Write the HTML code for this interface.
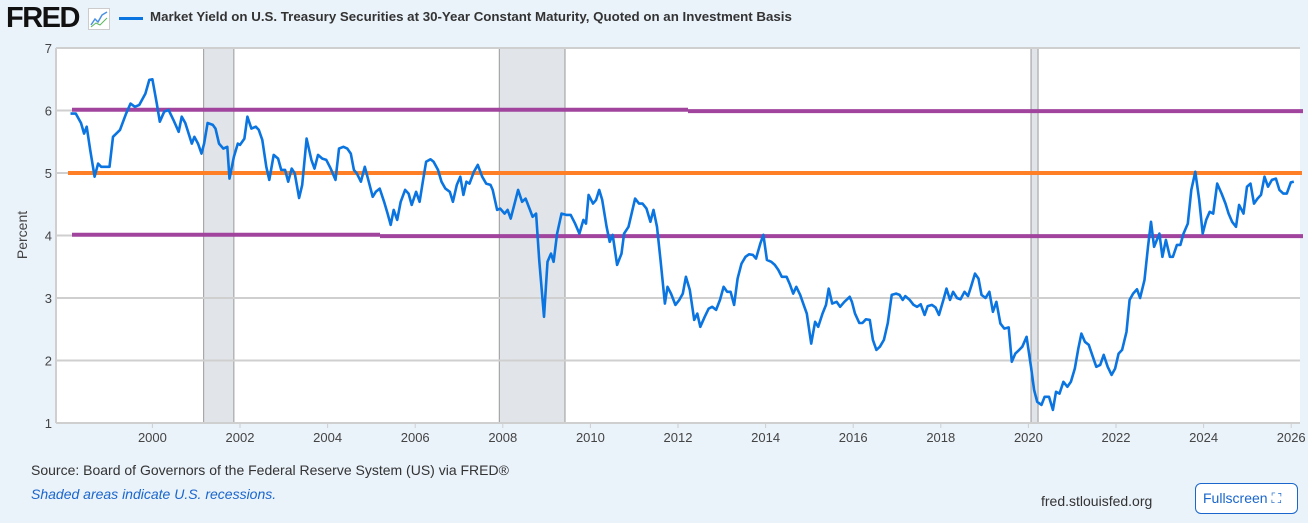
<!DOCTYPE html>
<html><head><meta charset="utf-8">
<style>
html,body{margin:0;padding:0}
body{width:1308px;height:523px;background:#eaf2fa;font-family:"Liberation Sans",sans-serif;position:relative;overflow:hidden}
.abs{position:absolute}
</style></head>
<body>
<div class="abs" style="left:6px;top:2px;font-size:29px;font-weight:bold;letter-spacing:-1.5px;color:#111">FRED</div>
<svg class="abs" style="left:88px;top:8px" width="22" height="22"><rect x="0.5" y="0.5" width="21" height="21" fill="#fff" stroke="#ccc"/><polyline points="3,17 7,11 10,14 14,7 19,4" fill="none" stroke="#4a90e2" stroke-width="1.5"/><polyline points="3,19 8,15 12,17 19,10" fill="none" stroke="#5cb85c" stroke-width="1"/></svg>
<div class="abs" style="left:119px;top:17px;width:24px;height:3px;background:#0a74e0"></div>
<div class="abs" style="left:150px;top:9px;font-size:13.3px;font-weight:bold;color:#333">Market Yield on U.S. Treasury Securities at 30-Year Constant Maturity, Quoted on an Investment Basis</div>
<svg id="chart" class="abs" style="left:0;top:0" width="1308" height="460"></svg>
<div class="abs" style="left:31px;top:462px;font-size:14px;color:#333">Source: Board of Governors of the Federal Reserve System (US) via FRED®</div>
<div class="abs" style="left:31px;top:486px;font-size:14px;font-style:italic;color:#1a66cc">Shaded areas indicate U.S. recessions.</div>
<div class="abs" style="left:1041px;top:493px;font-size:14px;color:#333">fred.stlouisfed.org</div>
<div class="abs" style="left:1195px;top:483px;width:103px;height:31px;box-sizing:border-box;border:1.5px solid #1a66cc;border-radius:6px;background:#fff;color:#1a66cc;font-size:14px;line-height:28px;padding-left:7px">Fullscreen ⛶</div>
<script>
const years=[1998.13,1998.25,1998.37,1998.44,1998.5,1998.58,1998.68,1998.76,1998.83,1999.02,1999.1,1999.26,1999.4,1999.5,1999.6,1999.7,1999.84,1999.93,2000.0,2000.1,2000.17,2000.27,2000.37,2000.48,2000.6,2000.67,2000.75,2000.9,2000.96,2001.04,2001.12,2001.18,2001.26,2001.38,2001.44,2001.52,2001.62,2001.71,2001.76,2001.86,2001.95,2002.0,2002.1,2002.17,2002.26,2002.36,2002.43,2002.51,2002.6,2002.67,2002.77,2002.87,2002.94,2003.03,2003.1,2003.18,2003.25,2003.35,2003.42,2003.52,2003.63,2003.7,2003.78,2003.88,2003.97,2004.07,2004.18,2004.26,2004.36,2004.45,2004.53,2004.6,2004.67,2004.76,2004.85,2004.93,2005.03,2005.1,2005.19,2005.29,2005.37,2005.44,2005.51,2005.59,2005.67,2005.77,2005.85,2005.92,2006.02,2006.1,2006.18,2006.25,2006.35,2006.42,2006.52,2006.6,2006.69,2006.79,2006.86,2006.95,2007.03,2007.1,2007.17,2007.24,2007.34,2007.43,2007.53,2007.62,2007.72,2007.77,2007.87,2007.94,2008.04,2008.11,2008.18,2008.27,2008.35,2008.44,2008.52,2008.62,2008.68,2008.76,2008.83,2008.94,2009.02,2009.1,2009.16,2009.24,2009.34,2009.45,2009.55,2009.65,2009.75,2009.84,2009.9,2009.96,2010.06,2010.13,2010.2,2010.27,2010.37,2010.44,2010.51,2010.61,2010.71,2010.77,2010.87,2010.94,2011.02,2011.11,2011.19,2011.28,2011.37,2011.44,2011.52,2011.6,2011.7,2011.76,2011.84,2011.94,2012.03,2012.11,2012.18,2012.27,2012.37,2012.44,2012.51,2012.61,2012.7,2012.78,2012.87,2012.96,2013.04,2013.12,2013.2,2013.28,2013.36,2013.45,2013.54,2013.62,2013.71,2013.78,2013.88,2013.95,2014.03,2014.13,2014.21,2014.29,2014.37,2014.48,2014.56,2014.63,2014.7,2014.79,2014.87,2014.94,2015.04,2015.13,2015.2,2015.3,2015.38,2015.44,2015.52,2015.62,2015.7,2015.8,2015.92,2015.97,2016.04,2016.14,2016.21,2016.29,2016.38,2016.45,2016.53,2016.61,2016.7,2016.79,2016.88,2016.98,2017.06,2017.13,2017.19,2017.29,2017.38,2017.46,2017.54,2017.63,2017.7,2017.8,2017.88,2017.96,2018.06,2018.13,2018.21,2018.28,2018.37,2018.45,2018.54,2018.62,2018.69,2018.78,2018.86,2018.93,2019.02,2019.11,2019.19,2019.27,2019.36,2019.45,2019.55,2019.62,2019.7,2019.79,2019.86,2019.96,2020.06,2020.13,2020.2,2020.3,2020.37,2020.47,2020.56,2020.63,2020.71,2020.8,2020.89,2020.97,2021.06,2021.14,2021.21,2021.29,2021.38,2021.47,2021.55,2021.64,2021.72,2021.81,2021.9,2021.98,2022.06,2022.14,2022.24,2022.31,2022.39,2022.48,2022.55,2022.65,2022.73,2022.8,2022.87,2022.99,2023.06,2023.14,2023.23,2023.3,2023.39,2023.47,2023.54,2023.64,2023.72,2023.81,2023.9,2023.98,2024.06,2024.14,2024.22,2024.31,2024.41,2024.5,2024.57,2024.65,2024.74,2024.81,2024.91,2024.99,2025.07,2025.15,2025.23,2025.31,2025.39,2025.47,2025.56,2025.65,2025.73,2025.82,2025.9,2025.99,2026.06];
const yields=[5.95,5.95,5.8,5.63,5.74,5.37,4.94,5.15,5.1,5.1,5.58,5.69,5.95,6.11,6.06,6.09,6.27,6.49,6.5,6.11,5.82,5.98,6.01,5.85,5.66,5.9,5.8,5.47,5.58,5.47,5.31,5.47,5.8,5.77,5.71,5.47,5.39,5.42,4.91,5.26,5.47,5.45,5.55,5.9,5.71,5.74,5.69,5.53,5.1,4.89,5.29,5.23,5.05,5.05,4.86,5.07,4.99,4.6,4.81,5.55,5.21,5.07,5.29,5.23,5.21,5.07,4.89,5.39,5.42,5.39,5.31,5.05,4.99,4.86,5.1,4.89,4.62,4.7,4.75,4.54,4.35,4.17,4.41,4.25,4.54,4.73,4.67,4.49,4.7,4.54,4.89,5.18,5.22,5.18,5.05,4.86,4.75,4.7,4.54,4.81,4.94,4.65,4.86,4.83,5.02,5.13,4.94,4.83,4.81,4.73,4.41,4.43,4.35,4.41,4.27,4.51,4.73,4.54,4.59,4.41,4.3,4.35,3.61,2.7,3.58,3.71,3.58,4.03,4.35,4.33,4.33,4.19,4.03,4.25,4.19,4.65,4.51,4.57,4.73,4.57,4.14,3.9,4.01,3.53,3.71,4.03,4.14,4.35,4.59,4.51,4.51,4.43,4.22,4.41,4.14,3.61,2.91,3.18,3.07,2.89,2.97,3.07,3.34,3.13,2.65,2.75,2.54,2.7,2.83,2.86,2.81,2.97,3.18,3.1,3.1,2.89,3.31,3.55,3.66,3.7,3.69,3.63,3.87,4.01,3.61,3.58,3.53,3.45,3.34,3.34,3.21,3.07,3.18,3.05,2.89,2.75,2.27,2.62,2.54,2.75,2.89,3.15,2.91,2.94,2.86,2.94,3.02,2.94,2.75,2.6,2.6,2.66,2.65,2.33,2.17,2.22,2.33,2.6,3.05,3.07,3.05,2.97,3.03,2.97,2.89,2.86,2.9,2.73,2.87,2.89,2.85,2.73,2.97,3.15,2.97,3.1,3.0,2.98,3.1,3.03,3.18,3.39,3.31,3.05,3.0,3.1,2.78,2.94,2.59,2.51,2.53,1.98,2.11,2.17,2.22,2.38,1.9,1.53,1.34,1.29,1.42,1.42,1.21,1.5,1.47,1.66,1.58,1.66,1.87,2.19,2.43,2.3,2.25,2.06,1.9,1.93,2.09,1.9,1.77,1.87,2.11,2.17,2.46,2.97,3.07,3.14,3.0,3.29,3.82,4.22,3.82,4.03,3.66,3.93,3.66,3.66,3.85,3.85,4.03,4.19,4.73,5.02,4.57,4.03,4.25,4.38,4.35,4.83,4.67,4.51,4.35,4.22,4.14,4.49,4.35,4.78,4.83,4.51,4.59,4.65,4.94,4.78,4.89,4.91,4.73,4.67,4.67,4.85,4.86];
const yTicks=[1,2,3,4,5,6,7];
const xTicks=[2000,2002,2004,2006,2008,2010,2012,2014,2016,2018,2020,2022,2024,2026];
const recessionStarts=[2001.17,2007.92,2020.06];
const recessionEnds=[2001.86,2009.42,2020.22];
const refLevels=[6,5,4];

const NS='http://www.w3.org/2000/svg';
const svg=document.getElementById('chart');
const L=56,R=1300,T=48,B=423;
const x=v=>152.4+(v-2000)*43.8;
const y=v=>T+(7-v)*62.5;
function mk(tag,attrs,parent){const e=document.createElementNS(NS,tag);for(const k in attrs)e.setAttribute(k,attrs[k]);(parent||svg).appendChild(e);return e;}

const bg=mk('rect',{x:L,y:T,width:R-L,height:B-T,fill:'#fff'});



for(let i=0;i<recessionStarts.length;i++){
  const r=mk('rect',{x:x(recessionStarts[i]),y:T,width:x(recessionEnds[i])-x(recessionStarts[i]),height:B-T,fill:'#e1e5ea',stroke:'#999','stroke-width':1});
  
  
}
yTicks.forEach(t=>{
  const g=mk('line',{x1:L,x2:R,y1:y(t),y2:y(t),stroke:'#cfcfcf','stroke-width':2});
  
  
  const tx=mk('text',{x:52,y:y(t)+5,'text-anchor':'end','font-size':13,fill:'#444','font-family':'Liberation Sans'});
  tx.textContent=t;
  
  
});
const lb=mk('line',{x1:L,x2:L,y1:T,y2:B,stroke:'#cfcfcf','stroke-width':2});


xTicks.forEach(t=>{
  const tk=mk('line',{x1:x(t),x2:x(t),y1:B,y2:B+5,stroke:'#cfcfcf','stroke-width':1});
  
  
  const tx=mk('text',{x:x(t),y:442,'text-anchor':'middle','font-size':13,fill:'#444','font-family':'Liberation Sans'});
  tx.textContent=t;
  
  
});
const yt=mk('text',{x:27,y:235,'text-anchor':'middle','font-size':14,fill:'#444','font-family':'Liberation Sans',transform:'rotate(-90 27 235)'});
yt.textContent='Percent';



const colors=['#a0449e','#ff7f27','#a0449e'];
const offs=[[-0.8,0.6,688],[0,0,null],[-0.8,0.6,380]];
refLevels.forEach((lv,i)=>{
  const o=offs[i];
  if(o[2]){
    const a=mk('line',{x1:72,x2:o[2],y1:y(lv)+o[0],y2:y(lv)+o[0],stroke:colors[i],'stroke-width':4});
    
    
    const b=mk('line',{x1:o[2],x2:1303,y1:y(lv)+o[1],y2:y(lv)+o[1],stroke:colors[i],'stroke-width':4});
    
    
  } else {
    const a=mk('line',{x1:68,x2:1302,y1:y(lv),y2:y(lv),stroke:colors[i],'stroke-width':4});
    
    
  }
});
const pts=years.map((yr,i)=>x(yr).toFixed(1)+','+y(yields[i]).toFixed(1)).join(' ');
const pl=mk('polyline',{points:pts,fill:'none',stroke:'#0a74e0','stroke-width':2.6,'stroke-linejoin':'round'});


</script>
</body></html>
